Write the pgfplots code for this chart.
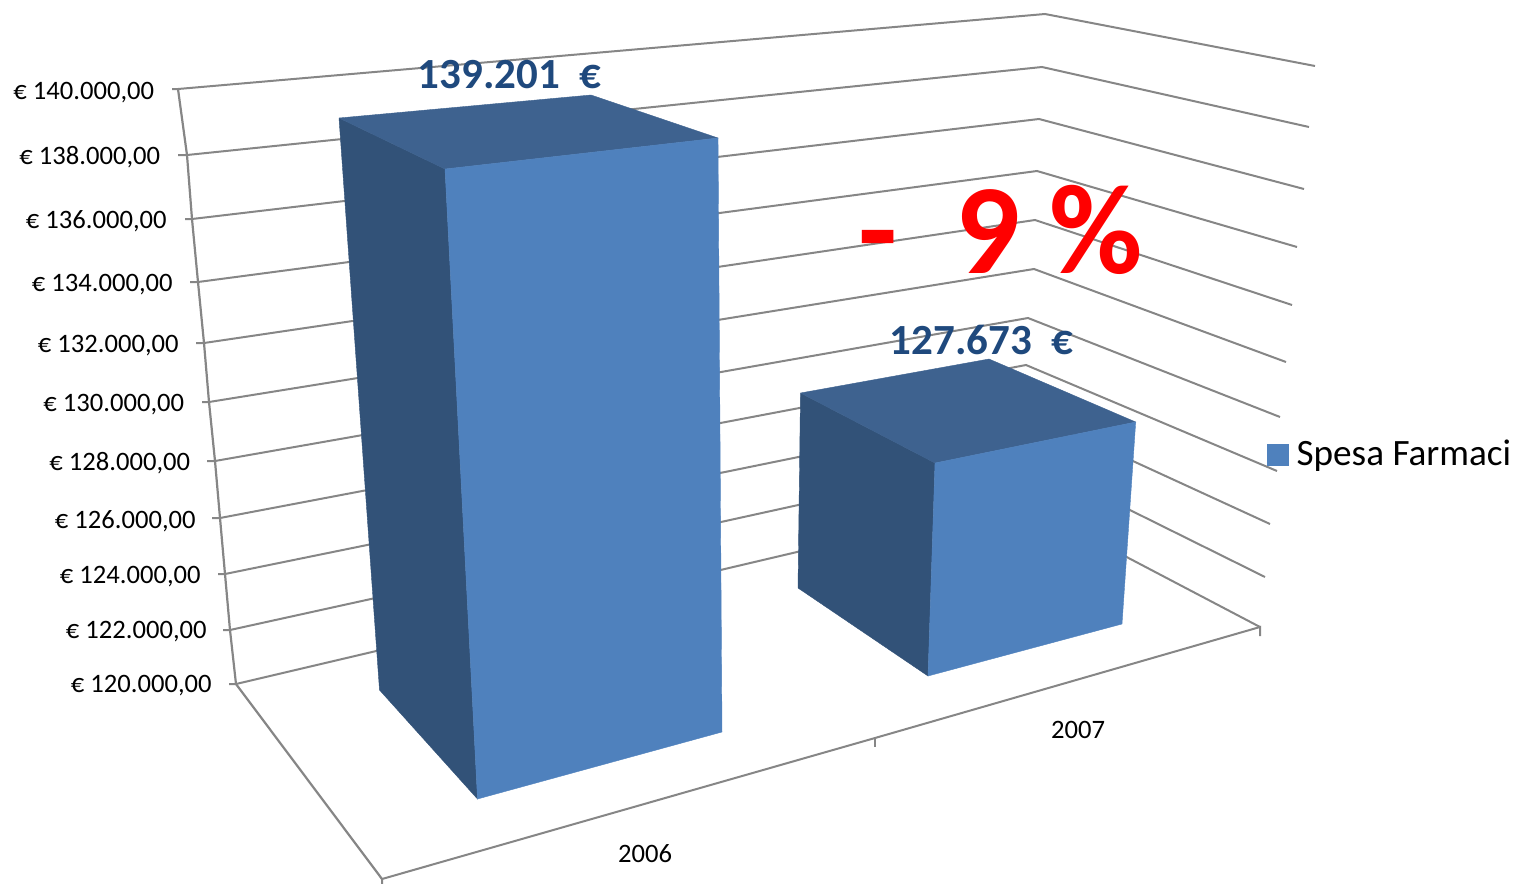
\documentclass[border=0pt]{standalone}
\usepackage{fontspec}
\setmainfont{Carlito}
\usepackage{pgfplots}
\pgfplotsset{compat=1.18}
\definecolor{front}{HTML}{4F81BD}
\definecolor{leftf}{HTML}{325278}
\definecolor{topf}{HTML}{3E628F}
\definecolor{gridc}{HTML}{868686}
\definecolor{lab}{HTML}{1F497D}
\pgfplotsset{
  gl/.style={draw=gridc,line width=1pt,forget plot},
  ax/.style={draw=gridc,line width=1.1pt,forget plot},
  facef/.style={fill=front,draw=front,line width=0.2pt},
  facel/.style={fill=leftf,draw=leftf,line width=0.2pt,forget plot},
  facet/.style={fill=topf,draw=topf,line width=0.2pt,forget plot},
}
\begin{document}
\begin{tikzpicture}
\path[use as bounding box] (0,0) rectangle (758.5pt,442pt);
\begin{axis}[
  at={(0,0)}, anchor=south west,
  scale only axis, width=758.5pt, height=442pt,
  xmin=0, xmax=1517, ymin=0, ymax=884, y dir=reverse,
  hide axis, clip=false,
  legend style={draw=none,fill=none,at={(axis cs:1267,454.5)},anchor=west,
    font=\fontsize{18.6pt}{21pt}\selectfont,inner sep=0pt,outer sep=0pt,
    legend cell align=left},
  legend image code/.code={\fill[front] (0pt,-5.25pt) rectangle (10.5pt,5.25pt);},
]
% gridlines: value axis tick, back corner, right end
\addplot[gl] coordinates {(172,89)(178,89)(1045,14)(1315,66)};
\addplot[gl] coordinates {(178,155)(187,155)(1042,67)(1309,127)};
\addplot[gl] coordinates {(185,219)(192,219)(1039,119)(1304,189)};
\addplot[gl] coordinates {(190,282)(198,282)(1037,171)(1297,247)};
\addplot[gl] coordinates {(196,343)(204,343)(1035,220)(1292,305)};
\addplot[gl] coordinates {(202,402)(209,402)(1034,269)(1286,362)};
\addplot[gl] coordinates {(207,461)(215,461)(1028,318)(1280,417)};
\addplot[gl] coordinates {(212,518)(220,518)(1026,365)(1277,471)};
\addplot[gl] coordinates {(218,574)(225,574)(1024,411)(1270,524)};
\addplot[gl] coordinates {(223,630)(230,630)(1021,456)(1265,577)};
\addplot[gl] coordinates {(229,684)(236,684)(1018,500)(1260,627)};
% value axis and floor
\addplot[ax] coordinates {(178,89)(187,155)(192,219)(198,282)(204,343)(209,402)(215,461)(220,518)(225,574)(230,630)(236,684)(382,879)};
\addplot[gl] coordinates {(382,884)(382,879)(875,738)(1260,627)(1260,636)};
\addplot[gl] coordinates {(875,738)(875,747)};
% bar 2006
\addplot[facel] coordinates {(339,118)(445,169)(477.5,799)(379.5,690)(339,118)};
\addplot[facet] coordinates {(339,118)(591,95)(718,138)(445,169)(339,118)};
\addplot[facef] coordinates {(445,169)(718,138)(722,732)(477.5,799)(445,169)};
\addlegendentry{\hspace{2.1pt}Spesa Farmaci}
% bar 2007
\addplot[facel] coordinates {(800.5,393)(935,463)(928,676)(798,588)(800.5,393)};
\addplot[facet] coordinates {(800.5,393)(989,359)(1135.7,422)(935,463)(800.5,393)};
\addplot[facef,forget plot] coordinates {(935,463)(1135.7,422)(1122,624)(928,676)(935,463)};
% tick labels
\tikzset{tl/.style={anchor=east,inner sep=0pt,font=\fontsize{13.3pt}{15pt}\selectfont}}
\node[tl] at (axis cs:154.5,93) {€ 140.000,00};
\node[tl] at (axis cs:160.5,157) {€ 138.000,00};
\node[tl] at (axis cs:167,221) {€ 136.000,00};
\node[tl] at (axis cs:173,285) {€ 134.000,00};
\node[tl] at (axis cs:179,346) {€ 132.000,00};
\node[tl] at (axis cs:184.5,405) {€ 130.000,00};
\node[tl] at (axis cs:190.5,463) {€ 128.000,00};
\node[tl] at (axis cs:196,521) {€ 126.000,00};
\node[tl] at (axis cs:201,577) {€ 124.000,00};
\node[tl] at (axis cs:207,632) {€ 122.000,00};
\node[tl] at (axis cs:212,686) {€ 120.000,00};
\node[anchor=center,inner sep=0pt,font=\fontsize{13.3pt}{15pt}\selectfont] at (axis cs:645,854) {2006};
\node[anchor=center,inner sep=0pt,font=\fontsize{13.3pt}{15pt}\selectfont] at (axis cs:1078,730) {2007};
% data labels
\node[anchor=center,inner sep=0pt,text=lab,font=\bfseries\fontsize{21.5pt}{24pt}\selectfont] at (axis cs:509.5,75) {139.201~~€};
\node[anchor=center,inner sep=0pt,text=lab,font=\bfseries\fontsize{21.5pt}{24pt}\selectfont] at (axis cs:981.5,340) {127.673~~€};
\node[anchor=center,inner sep=0pt,text=red,font=\bfseries\fontsize{64pt}{70pt}\selectfont] at (axis cs:1001,230) {-~~9~\%};
\end{axis}
\end{tikzpicture}
\end{document}
